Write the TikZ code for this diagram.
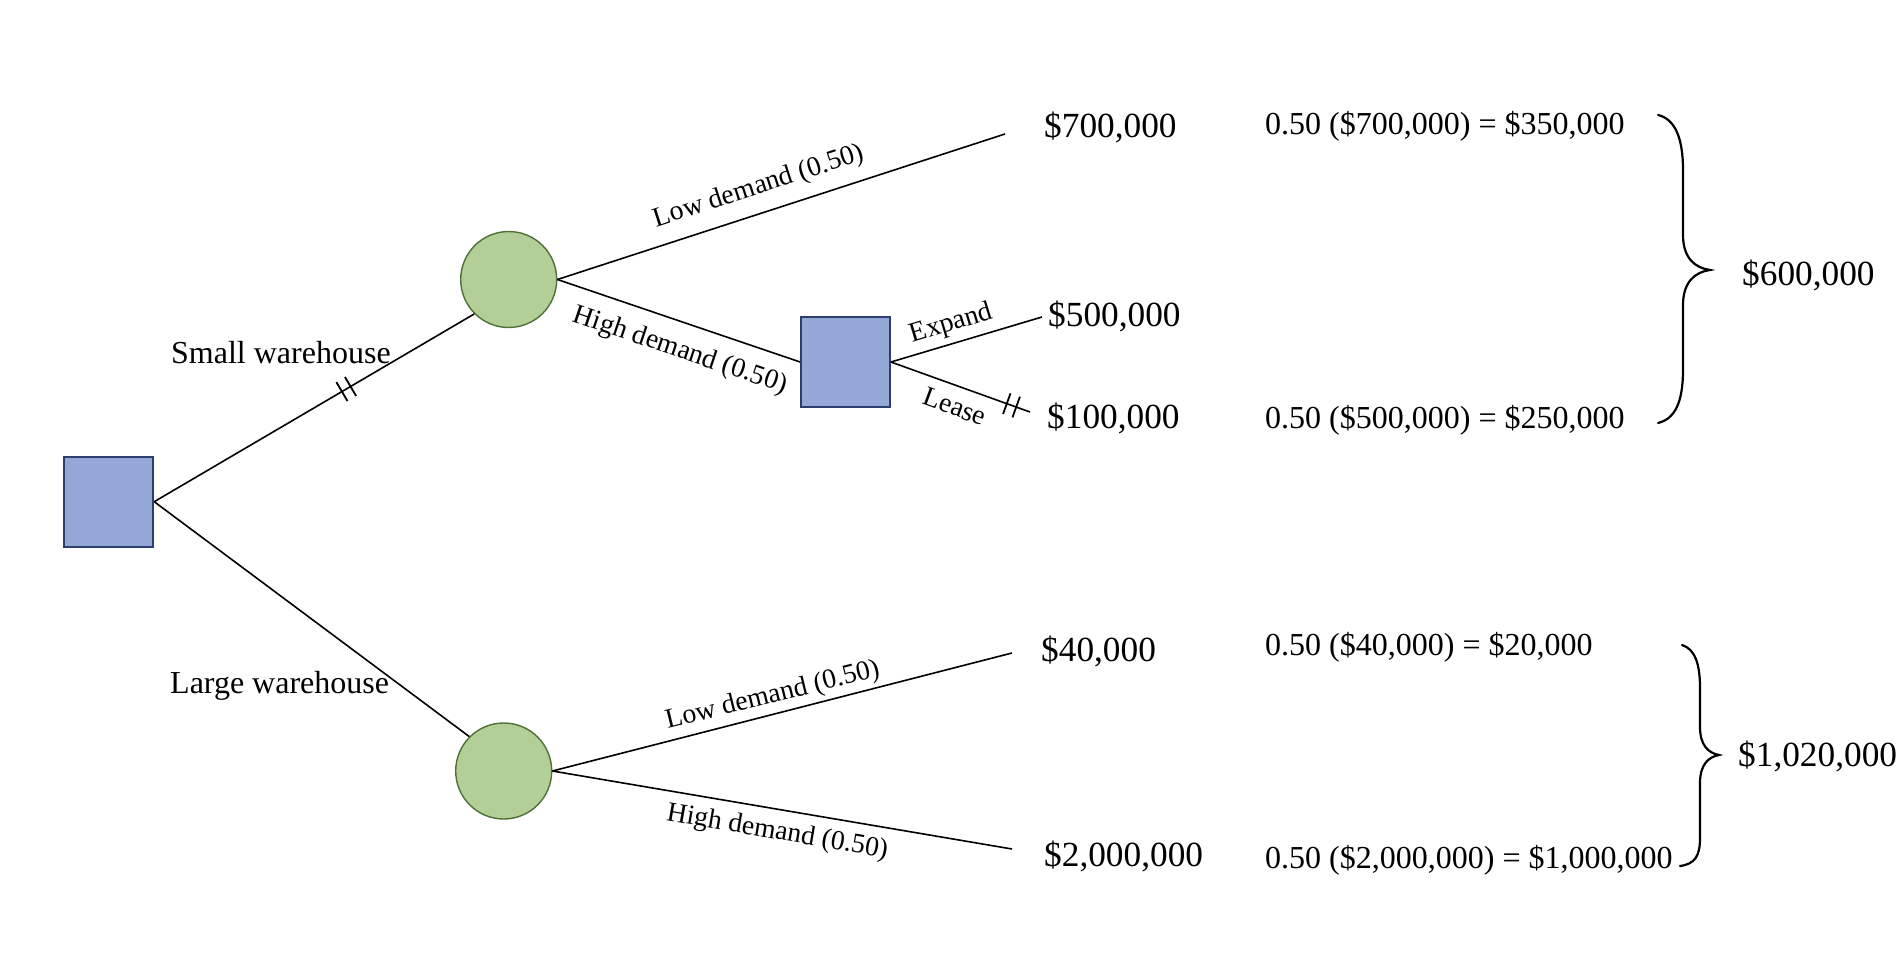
\documentclass[tikz,border=0pt]{standalone}
\usepackage{fontspec}
\setmainfont{Liberation Serif}
\usetikzlibrary{decorations.markings}
\definecolor{decfill}{HTML}{94A8D8}
\definecolor{decdraw}{HTML}{2C3E6B}
\definecolor{chfill}{HTML}{B1CF96}
\definecolor{chdraw}{HTML}{4F7038}
\begin{document}
\begin{tikzpicture}[x=1pt,y=-1pt,
  decbox/.style={rectangle,draw=decdraw,fill=decfill,line width=1.8pt,minimum width=89pt,minimum height=90pt,inner sep=0pt},
  chance/.style={circle,draw=chdraw,fill=chfill,line width=1.4pt,minimum size=96pt,inner sep=0pt},
  conn/.style={line width=1.6pt,black},
  hashmark/.style={line width=1.8pt,black},
  pruned/.style={postaction={decorate},decoration={markings,
     mark=at position #1 with {\draw[hashmark] (-5,-11) -- (-5,11); \draw[hashmark] (5,-11) -- (5,11);}}},
  bracepath/.style={line width=2.2pt,black,line cap=round},
  val/.style={anchor=base west,inner sep=0pt,font=\fontsize{35.3pt}{40pt}\selectfont},
  calc/.style={anchor=base west,inner sep=0pt,font=\fontsize{32pt}{36pt}\selectfont},
  lab/.style={anchor=base west,inner sep=0pt,font=\fontsize{32pt}{36pt}\selectfont},
  blab/.style={inner sep=0pt,font=\fontsize{27.7pt}{32pt}\selectfont}]
\useasboundingbox (0,0) rectangle (1899,960);

% decision and chance nodes
\node[decbox] (root) at (108.8,501.7) {};
\node[chance] (c1) at (508.7,279.5) {};
\node[chance] (c2) at (503.7,771) {};
\node[decbox] (d2) at (845.5,362) {};

% free ends of branches
\coordinate (e700) at (1005,134);
\coordinate (e500) at (1042,317);
\coordinate (e100) at (1030,412);
\coordinate (e40) at (1012,653);
\coordinate (e2m) at (1012,849);

% connectors
\draw[conn,pruned=0.6] (root.east) -- (c1.south west);
\draw[conn] (root.east) -- (c2.north west);
\draw[conn] (c1.east) -- (e700);
\draw[conn] (c1.east) -- (d2.west);
\draw[conn] (d2.east) -- (e500);
\draw[conn,pruned=0.867] (d2.east) -- (e100);
\draw[conn] (c2.east) -- (e40);
\draw[conn] (c2.east) -- (e2m);

% branch labels
\node[lab] (lsmall) at (171,363) {Small warehouse};
\node[lab] (llarge) at (170,693) {Large warehouse};
\node[blab,rotate=18] (llow1) at (759,187) {Low demand (0.50)};
\node[blab,rotate=-18.6] (lhigh1) at (680,351) {High demand (0.50)};
\node[blab,rotate=17] (lexp) at (951.5,324) {Expand};
\node[blab,rotate=-20] (llease) at (955,406.5) {Lease};
\node[blab,rotate=13.9] (llow2) at (772.7,695.8) {Low demand (0.50)};
\node[blab,rotate=-9.7] (lhigh2) at (777.3,832.5) {High demand (0.50)};

% payoffs
\node[val] (v700) at (1044,138) {\$700,000};
\node[val] (v500) at (1048,326) {\$500,000};
\node[val] (v100) at (1047,428) {\$100,000};
\node[val] (v40) at (1041,661) {\$40,000};
\node[val] (v2m) at (1044,866) {\$2,000,000};

% expected value calculations
\node[calc] (k1) at (1265,135) {0.50 (\$700,000) = \$350,000};
\node[calc] (k2) at (1265,428) {0.50 (\$500,000) = \$250,000};
\node[calc] (k3) at (1265,655) {0.50 (\$40,000) = \$20,000};
\node[calc] (k4) at (1265,868) {0.50 (\$2,000,000) = \$1,000,000};

% braces
\draw[bracepath] (1658,115) .. controls (1675,119) and (1683,138) .. (1683,170)
  -- (1683,235) .. controls (1683,258) and (1695,268) .. (1710,270)
  .. controls (1695,272) and (1683,282) .. (1683,305)
  -- (1683,370) .. controls (1683,402) and (1675,419) .. (1658,423);
\draw[bracepath] (1682,645) .. controls (1695,649) and (1700,664) .. (1700,688)
  -- (1700,727) .. controls (1700,745) and (1708,753) .. (1719,755)
  .. controls (1708,757) and (1700,765) .. (1700,783)
  -- (1700,838) .. controls (1700,856) and (1695,864) .. (1680,866);

% totals
\node[val] (t1) at (1742,285) {\$600,000};
\node[val] (t2) at (1738,766) {\$1,020,000};
\end{tikzpicture}
\end{document}
